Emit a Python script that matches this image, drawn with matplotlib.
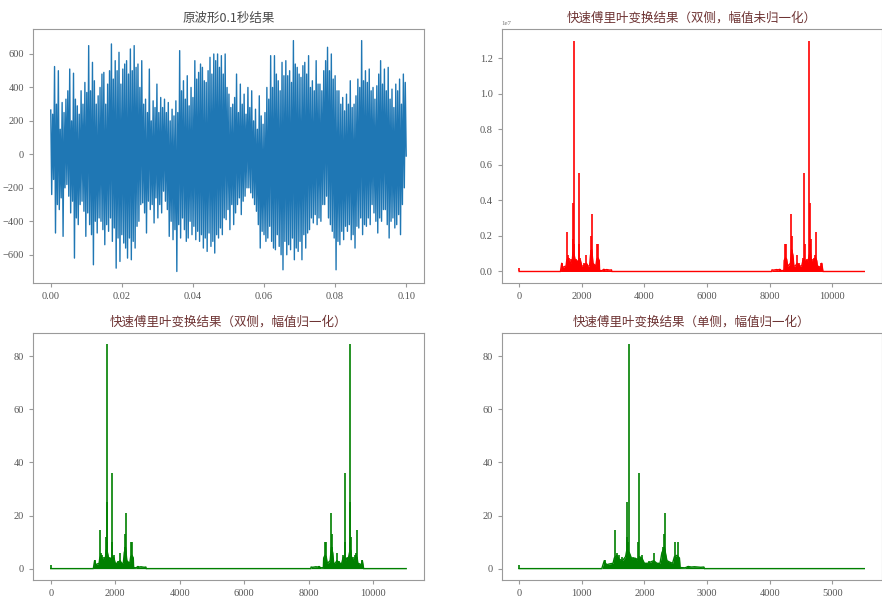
import numpy as np
import matplotlib
matplotlib.use("Agg")
import matplotlib.pyplot as plt

plt.rcParams['font.family'] = ['Liberation Serif', 'Noto Sans CJK SC', 'DejaVu Sans']

# original waveform, first 0.1 s: alternating upper / lower swings
wave_hi = [265, 240, 525, 300, 500, 150, 310, 250, 330, 380, 510, 200, 485, 330, 290, 240, 380, 300, 430, 370,
           650, 380, 550, 440, 300, 350, 400, 480, 490, 300, 420, 500, 660, 450, 560, 500, 610, 420, 510, 540,
           560, 480, 630, 500, 650, 520, 540, 400, 560, 300, 330, 250, 510, 200, 320, 280, 420, 250, 340, 280,
           330, 250, 310, 200, 270, 230, 320, 250, 620, 380, 440, 330, 470, 290, 400, 340, 560, 450, 490, 540,
           520, 440, 430, 500, 580, 480, 600, 560, 600, 520, 590, 480, 600, 400, 360, 280, 300, 340, 480, 250,
           420, 300, 360, 240, 400, 280, 380, 200, 270, 150, 350, 230, 180, 250, 400, 330, 590, 400, 590, 480,
           440, 380, 550, 470, 560, 470, 500, 430, 680, 540, 520, 480, 460, 530, 550, 480, 590, 400, 440, 380,
           560, 420, 420, 380, 500, 560, 640, 500, 600, 450, 470, 380, 380, 300, 340, 260, 360, 300, 440, 280,
           300, 350, 450, 400, 680, 440, 500, 430, 510, 380, 400, 330, 410, 480, 560, 420, 510, 380, 520, 330,
           390, 280, 420, 380, 450, 300, 480, 430]
wave_lo = [-240, -150, -470, -300, -330, -260, -490, -200, -180, -250, -350, -280, -620, -380, -420, -300, -280, -340, -490, -350,
           -420, -480, -660, -400, -470, -380, -400, -450, -540, -420, -460, -380, -520, -440, -680, -500, -640, -480, -530, -560,
           -620, -500, -630, -520, -560, -430, -400, -300, -290, -350, -470, -280, -330, -300, -410, -260, -380, -300, -350, -220,
           -280, -330, -490, -400, -510, -450, -700, -420, -500, -380, -450, -520, -500, -400, -480, -430, -510, -460, -520, -480,
           -560, -500, -580, -470, -550, -520, -590, -480, -500, -440, -480, -380, -390, -330, -450, -300, -420, -350, -300, -260,
           -360, -280, -250, -200, -200, -230, -260, -300, -340, -420, -560, -460, -480, -520, -500, -430, -520, -560, -570, -480,
           -550, -600, -690, -520, -600, -540, -570, -500, -630, -560, -580, -520, -630, -480, -560, -470, -450, -380, -410, -360,
           -420, -380, -400, -300, -300, -250, -380, -420, -460, -500, -690, -520, -540, -460, -510, -430, -460, -420, -510, -480,
           -560, -430, -440, -380, -480, -420, -430, -380, -420, -300, -350, -400, -470, -380, -400, -330, -330, -420, -500, -400,
           -380, -440, -420, -360, -480, -300, -200, -10]
wave_duration = 0.1

# spectrum (single sided, normalised): noise floor of the band and the spikes
sample_rate = 11025
band_freqs = [0, 1320, 1340, 1360, 1380, 1400, 1450, 1500, 1520, 1560,
              1600, 1650, 1700, 1720, 1760, 1800, 1850, 1880, 1920, 1960,
              2000, 2050, 2100, 2150, 2200, 2250, 2280, 2320, 2360, 2400,
              2450, 2480, 2520, 2560, 2570, 2650, 2700, 2750, 2800, 2900,
              2950, 2960, 5512]
band_levels = [0, 0, 1.5, 3.0, 2.0, 1.5, 1.8, 2.0, 4.0, 5.0,
               3.5, 3.0, 4.5, 7.0, 6.0, 3.5, 4.0, 3.0, 4.5, 4.0,
               2.0, 2.0, 2.5, 3.0, 2.0, 2.0, 6.0, 8.0, 3.0, 2.5,
               2.0, 4.5, 5.0, 4.0, 0.4, 0.3, 0.8, 0.6, 0.7, 0.5,
               0.6, 0, 0]
peak_freqs = [0, 1370, 1530, 1560, 1600, 1650, 1715, 1730, 1745, 1755,
              1820, 1860, 1900, 1910, 1960, 2080, 2150, 2295, 2310, 2335,
              2490, 2530, 2700]
peak_levels = [1.3, 3.2, 14.5, 6.0, 5.0, 4.5, 12.0, 25.0, 10.0, 84.5,
               4.5, 4.0, 10.0, 36.0, 5.0, 3.0, 6.0, 8.0, 13.0, 21.0,
               10.2, 10.0, 1.0]
raw_max = 1.3e7  # top of the un-normalised plot

titles = ['原波形0.1秒结果',
          '快速傅里叶变换结果（双侧，幅值未归一化）',
          '快速傅里叶变换结果（双侧，幅值归一化）',
          '快速傅里叶变换结果（单侧，幅值归一化）']


def style(ax, title, tcolor):
    ax.set_title(title, family=['Noto Sans CJK SC'], fontsize=9, color=tcolor, pad=5)
    for s in ax.spines.values():
        s.set_color('#9a9a9a')
    ax.tick_params(colors='#9a9a9a', labelcolor='#555555', labelsize=7.5, length=3)


def spectrum(ax, freqs, levels, pk_f, pk_l, color):
    ax.fill_between(freqs, levels, 0, color=color, lw=0)
    ax.plot(freqs, levels, color=color, lw=1)
    ax.vlines(pk_f, 0, pk_l, color=color, lw=1.2)


fig = plt.figure(figsize=(8.82, 5.99), dpi=100)
ax1 = fig.add_axes([0.0374, 0.5275, 0.4433, 0.424])
ax2 = fig.add_axes([0.569, 0.5275, 0.4305, 0.424])
ax3 = fig.add_axes([0.0374, 0.032, 0.4433, 0.412])
ax4 = fig.add_axes([0.569, 0.032, 0.4305, 0.412])

# waveform
n = min(len(wave_hi), len(wave_lo))
wave = np.column_stack([wave_hi[:n], wave_lo[:n]]).ravel()
t = np.linspace(0, wave_duration, len(wave))
ax1.plot(t, wave, color='#1f77b4', lw=1.0)
ax1.set_xticks([0, 0.02, 0.04, 0.06, 0.08, 0.10])
ax1.set_yticks([-600, -400, -200, 0, 200, 400, 600])
style(ax1, titles[0], '#4a4a4a')

# double sided spectrum = single side plus its mirror image
bf = np.array(band_freqs, dtype=float)
bl = np.array(band_levels, dtype=float)
pf = np.array(peak_freqs, dtype=float)
pl = np.array(peak_levels, dtype=float)
full_f = np.concatenate([bf, sample_rate - bf[::-1]])
full_l = np.concatenate([bl, bl[::-1]])
full_pf = np.concatenate([pf, sample_rate - pf[1:]])
full_pl = np.concatenate([pl, pl[1:]])
scale = raw_max / max(peak_levels)

spectrum(ax2, full_f, full_l * scale, full_pf, full_pl * scale, 'red')
ax2.set_xticks([0, 2000, 4000, 6000, 8000, 10000])
ax2.set_yticks([0, 0.2e7, 0.4e7, 0.6e7, 0.8e7, 1.0e7, 1.2e7])
style(ax2, titles[1], '#6e3434')
ax2.yaxis.get_offset_text().set_fontsize(5)
ax2.yaxis.get_offset_text().set_color('#777777')

spectrum(ax3, full_f, full_l, full_pf, full_pl, 'green')
ax3.set_xticks([0, 2000, 4000, 6000, 8000, 10000])
ax3.set_yticks([0, 20, 40, 60, 80])
style(ax3, titles[2], '#6e3434')

spectrum(ax4, bf, bl, pf, pl, 'green')
ax4.set_xticks([0, 1000, 2000, 3000, 4000, 5000])
ax4.set_yticks([0, 20, 40, 60, 80])
style(ax4, titles[3], '#6e3434')

fig.savefig('out.png', dpi=100)
